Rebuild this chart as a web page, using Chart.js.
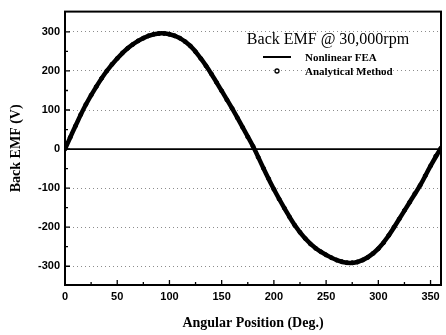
<!DOCTYPE html>
<html>
<head>
<meta charset="utf-8">
<script src="https://cdn.jsdelivr.net/npm/chart.js@4/dist/chart.umd.min.js"></script>
<style>
  body { margin: 0; background: #fff; }
</style>
</head>
<body>
<canvas id="chart" width="446" height="335"></canvas>
<script>
// values
let feaAngles = [0, 10, 20, 30, 40, 50, 60, 70, 80, 90, 100, 110, 120, 130, 140, 150, 160, 170, 180,
  190, 200, 210, 220, 230, 240, 250, 260, 270, 280, 290, 300, 310, 320, 330, 340, 350, 360];
let feaValues = [0, 59, 114, 160, 200, 232, 258, 277, 290, 296, 294, 284, 264, 232, 193, 149, 104, 56, 7,
  -49, -103, -151, -195, -229, -254, -271, -284, -291, -289, -277, -255, -221, -179, -136, -93, -43, 3];

let analyticalAngles = [0, 5, 10, 15, 20, 25, 30, 35, 40, 45, 50, 55, 60, 65, 70, 75, 80, 85, 90,
  95, 100, 105, 110, 115, 120, 125, 130, 135, 140, 145, 150, 155, 160, 165, 170, 175, 180,
  185, 190, 195, 200, 205, 210, 215, 220, 225, 230, 235, 240, 245, 250, 255, 260, 265, 270,
  275, 280, 285, 290, 295, 300, 305, 310, 315, 320, 325, 330, 335, 340, 345, 350, 355, 360];
let analyticalValues = [0, 30, 59, 88, 114, 138, 160, 181, 200, 217, 232, 246, 258, 268, 277, 284, 290, 294, 296,
  296, 294, 290, 284, 275, 264, 249, 232, 213, 193, 171, 149, 126, 104, 80, 56, 31, 7,
  -21, -49, -76, -103, -128, -151, -174, -195, -213, -229, -243, -254, -263, -271, -278, -284, -288, -291,
  -291, -289, -284, -277, -267, -255, -240, -221, -200, -179, -157, -136, -114, -93, -68, -43, -18, 3];

let xTicks = [0, 50, 100, 150, 200, 250, 300, 350];
let xMinorTicks = [25, 75, 125, 175, 225, 275, 325];
let yTicks = [-300, -200, -100, 0, 100, 200, 300];
let yMinorTicks = [-250, -150, -50, 50, 150, 250];

let legendTitle = "Back EMF @ 30,000rpm";

let framePlugin = {
  id: "frame",
  afterDatasetsDraw(chart) {
    let ctx = chart.ctx;
    let a = chart.chartArea;
    let x = chart.scales.x;
    let y = chart.scales.y;
    ctx.save();
    // zero line
    ctx.strokeStyle = "#000";
    ctx.lineWidth = 1.6;
    ctx.beginPath();
    ctx.moveTo(a.left, y.getPixelForValue(0));
    ctx.lineTo(a.right, y.getPixelForValue(0));
    ctx.stroke();
    // inward ticks
    ctx.lineWidth = 1.3;
    ctx.beginPath();
    for (let v of xTicks) {
      let px = x.getPixelForValue(v);
      ctx.moveTo(px, a.bottom);
      ctx.lineTo(px, a.bottom - 5);
    }
    for (let v of xMinorTicks) {
      let px = x.getPixelForValue(v);
      ctx.moveTo(px, a.bottom);
      ctx.lineTo(px, a.bottom - 3);
    }
    for (let v of yTicks) {
      let py = y.getPixelForValue(v);
      ctx.moveTo(a.left, py);
      ctx.lineTo(a.left + 5, py);
    }
    for (let v of yMinorTicks) {
      let py = y.getPixelForValue(v);
      ctx.moveTo(a.left, py);
      ctx.lineTo(a.left + 3, py);
    }
    ctx.stroke();
    // box
    ctx.lineWidth = 2;
    ctx.strokeRect(a.left, a.top, a.right - a.left, a.bottom - a.top);

    // legend
    let ds = chart.data.datasets;
    ctx.fillStyle = "#000";
    ctx.font = '16px "Liberation Serif"';
    ctx.textAlign = "center";
    ctx.textBaseline = "middle";
    ctx.fillText(legendTitle, 328, 40);
    ctx.font = 'bold 11px "Liberation Serif"';
    ctx.textAlign = "left";
    ctx.fillText(ds[0].label, 305, 58);
    ctx.fillText(ds[1].label, 305, 72);
    ctx.lineWidth = 2;
    ctx.beginPath();
    ctx.moveTo(263, 57);
    ctx.lineTo(291, 57);
    ctx.stroke();
    ctx.lineWidth = 1.3;
    ctx.fillStyle = "#fff";
    ctx.beginPath();
    ctx.arc(277, 71, 2, 0, Math.PI * 2);
    ctx.fill();
    ctx.stroke();
    ctx.restore();
  },
};

new Chart("chart", {
  type: "line",
  data: {
    datasets: [
      {
        label: "Nonlinear FEA",
        data: feaAngles.map((a, i) => ({ x: a, y: feaValues[i] })),
        borderColor: "#000",
        borderWidth: 4.5,
        pointRadius: 0,
        tension: 0.4,
      },
      {
        label: "Analytical Method",
        data: analyticalAngles.map((a, i) => ({ x: a, y: analyticalValues[i] })),
        showLine: false,
        pointStyle: "circle",
        pointRadius: 2,
        pointBorderWidth: 1,
        pointBorderColor: "#000",
        pointBackgroundColor: "#666",
      },
    ],
  },
  options: {
    responsive: false,
    animation: false,
    layout: { padding: { top: 5, right: 4, left: 0, bottom: 0 } },
    plugins: { legend: { display: false }, tooltip: { enabled: false } },
    scales: {
      x: {
        type: "linear",
        min: 0,
        max: 360,
        afterBuildTicks: (s) => { s.ticks = xTicks.map((v) => ({ value: v })); },
        afterFit: (s) => { s.height = 50; },
        grid: { display: false, drawTicks: false },
        border: { display: false },
        ticks: {
          padding: 5,
          color: "#000",
          maxRotation: 0,
          font: { family: "Liberation Sans", size: 11, weight: "bold" },
        },
        title: {
          display: true,
          text: "Angular Position (Deg.)",
          color: "#000",
          padding: { top: 0, bottom: 3 },
          font: { family: "Liberation Serif", size: 14, weight: "bold" },
        },
      },
      y: {
        min: -348,
        max: 352,
        afterBuildTicks: (s) => { s.ticks = yTicks.map((v) => ({ value: v })); },
        afterFit: (s) => { s.width = 65; },
        grid: {
          drawTicks: false,
          color: (c) => (c.tick && c.tick.value === 0 ? "rgba(0,0,0,0)" : "rgba(0,0,0,0.45)"),
          lineWidth: 1,
        },
        border: { display: false, dash: [1, 3] },
        ticks: {
          padding: 5,
          color: "#000",
          font: { family: "Liberation Sans", size: 11, weight: "bold" },
        },
        title: {
          display: true,
          text: "Back EMF (V)",
          color: "#000",
          padding: { top: 8, bottom: 0 },
          font: { family: "Liberation Serif", size: 14, weight: "bold" },
        },
      },
    },
  },
  plugins: [framePlugin],
});
</script>
</body>
</html>
